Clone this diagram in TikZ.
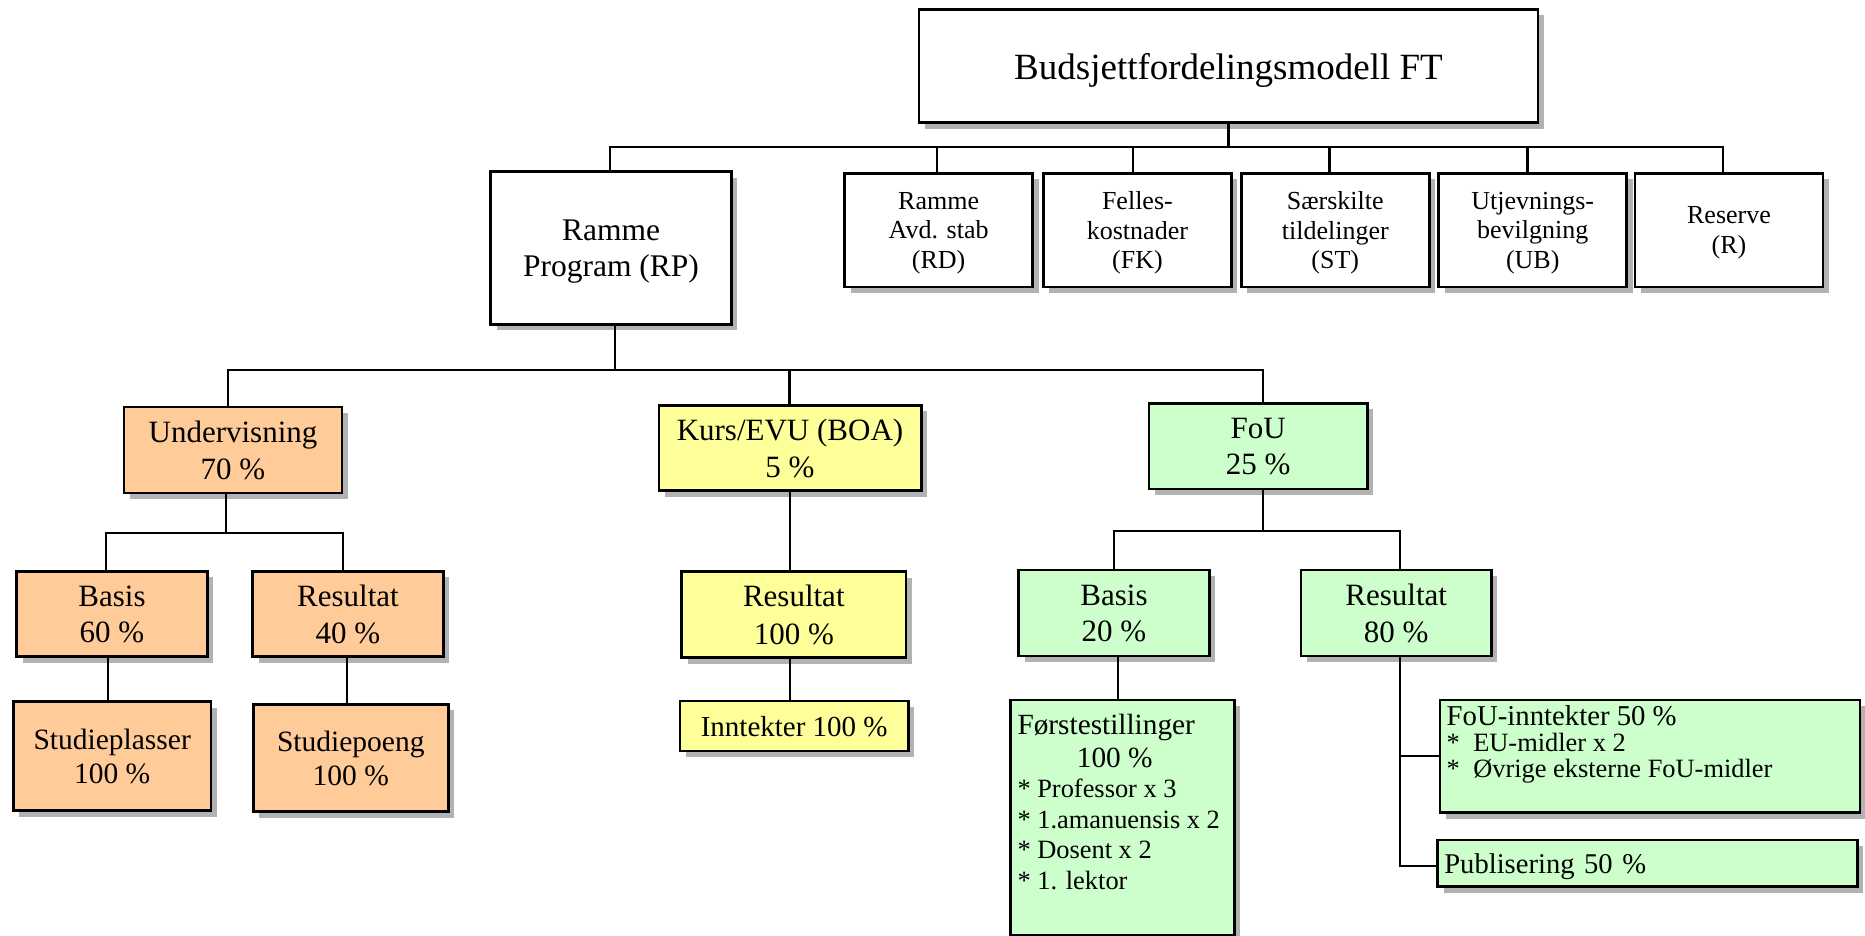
\documentclass[tikz,border=0pt]{standalone}
\usepackage{fontspec}
\setmainfont{Liberation Serif}
\usetikzlibrary{shadows}
\definecolor{orgc}{HTML}{FFCC99}
\definecolor{yelc}{HTML}{FFFF99}
\definecolor{grnc}{HTML}{CCFFCC}
\newcommand{\myfs}[2]{\fontsize{#1}{#2}\selectfont}
\tikzset{
  basebox/.style={draw, line width=2.7pt, inner sep=0pt,
    drop shadow={shadow xshift=6pt, shadow yshift=-6pt, fill=black!30, opacity=1}},
  ctbox/.style={basebox, align=center, text depth=0pt},
  wbox/.style={ctbox, fill=white},
  obox/.style={ctbox, fill=orgc},
  ybox/.style={ctbox, fill=yelc},
  gbox/.style={ctbox, fill=grnc},
  conn/.style={line width=2.2pt},
  big/.style={font=\myfs{31}{36.5}},
  small/.style={font=\myfs{26}{29.5}, minimum width=188pt, minimum height=113.7pt}
}
\begin{document}
\begin{tikzpicture}[x=1pt, y=-1pt]
\useasboundingbox (0,0) rectangle (1865,936);

% level 1
\node[wbox, font=\myfs{37}{42}, minimum width=619pt, minimum height=113.4pt] (T) at (1228.5,66) {Budsjettfordelingsmodell FT};
\node[wbox, font=\myfs{31.5}{36.5}, minimum width=240.7pt, minimum height=152.3pt] (RP) at (611,248) {Ramme\\Program (RP)};
\node[wbox, small] (RD) at (938.6,230.2) {Ramme\\Avd. stab\\(RD)};
\node[wbox, small] (FK) at (1137.4,230.2) {Felles-\\kostnader\\(FK)};
\node[wbox, small] (ST) at (1335.3,230.2) {Særskilte\\tildelinger\\(ST)};
\node[wbox, small] (UB) at (1532.7,230.2) {Utjevnings-\\bevilgning\\(UB)};
\node[wbox, small] (RS) at (1729,230.2) {Reserve\\(R)};

% level 2
\node[obox, big, minimum width=218pt, minimum height=86pt] (U) at (233,450) {Undervisning\\70 \%};
\node[ybox, big, minimum width=262.3pt, minimum height=85.4pt] (K) at (790,448) {Kurs/EVU (BOA)\\5 \%};
\node[gbox, big, minimum width=218.3pt, minimum height=85.7pt] (F) at (1258.2,446.2) {FoU\\25 \%};

% level 3
\node[obox, big, minimum width=190.6pt, minimum height=85.4pt] (UBa) at (112,614) {Basis\\60 \%};
\node[obox, big, minimum width=190.6pt, minimum height=85.4pt] (URe) at (348,614) {Resultat\\40 \%};
\node[ybox, font=\myfs{31}{37.5}, minimum width=224.3pt, minimum height=86pt] (KR) at (793.8,614.7) {Resultat\\100 \%};
\node[gbox, big, minimum width=190.6pt, minimum height=86pt] (FB) at (1114,613) {Basis\\20 \%};
\node[gbox, big, minimum width=190.3pt, minimum height=86pt] (FR) at (1396.2,613) {Resultat\\80 \%};

% level 4
\node[obox, font=\myfs{29.5}{34}, minimum width=197.7pt, minimum height=109pt] (SP) at (112.2,756.2) {Studieplasser\\100 \%};
\node[obox, font=\myfs{29.5}{34}, minimum width=195pt, minimum height=107.4pt] (SPo) at (350.8,758) {Studiepoeng\\100 \%};
\node[ybox, font=\myfs{29}{34}, minimum width=228.3pt, minimum height=50pt] (KI) at (794.2,726) {Inntekter 100 \%};
\node[basebox, fill=grnc, minimum width=223.6pt, minimum height=235pt] (BF) at (1122.5,817.5) {%
  \parbox[c][235pt][t]{210pt}{\raggedright
    \myfs{29.3}{33.3}\rule{0pt}{34pt}Førstestillinger\par
    \hspace*{59.4pt}100 \%\par
    \myfs{26.4}{30.5}%
    * Professor x 3\par
    * 1.amanuensis x 2\par
    * Dosent x 2\par
    * 1. lektor\par}};
\node[basebox, fill=grnc, minimum width=420pt, minimum height=112.7pt] (FI) at (1650,756.3) {%
  \parbox[c][112.7pt][t]{406.6pt}{\raggedright
    \myfs{28.75}{30}\rule{0pt}{26pt}FoU-inntekter 50 \%\par
    \myfs{26.4}{25.6}%
    \makebox[26.6pt][l]{*}EU-midler x 2\par
    \makebox[26.6pt][l]{*}Øvrige eksterne FoU-midler\par}};
\node[gbox, align=left, font=\myfs{28.6}{33}, inner xsep=6.6pt, text width=406.4pt, minimum height=46.7pt] (FP) at (1647.5,863.3) {Publisering 50 \%};

% connectors level 1
\coordinate (bus1) at (0,146.7);
\coordinate (sRPt) at ([xshift=-1.4pt]RP.north);
\coordinate (sRD) at ([xshift=-1.6pt]RD.north);
\coordinate (sFK) at ([xshift=-4.8pt]FK.north);
\coordinate (sST) at ([xshift=-5.8pt]ST.north);
\coordinate (sUB) at ([xshift=-5.2pt]UB.north);
\coordinate (sRS) at ([xshift=-6.4pt]RS.north);
\draw[conn] (T.south) -- (T.south |- bus1);
\draw[conn] (sRPt) |- (bus1 -| sRS) -- (sRS);
\draw[conn] (sRD) -- (sRD |- bus1);
\draw[conn] (sFK) -- (sFK |- bus1);
\draw[conn] (sST) -- (sST |- bus1);
\draw[conn] (sUB) -- (sUB |- bus1);

% connectors level 2
\coordinate (bus2) at (0,370);
\coordinate (sRPb) at ([xshift=4pt]RP.south);
\coordinate (sUt) at ([xshift=-5pt]U.north);
\coordinate (sKt) at ([xshift=-0.5pt]K.north);
\coordinate (sFt) at ([xshift=5.1pt]F.north);
\draw[conn] (sRPb) -- (sRPb |- bus2);
\draw[conn] (sUt) |- (bus2 -| sFt) -- (sFt);
\draw[conn] (sKt) -- (sKt |- bus2);

% Undervisning subtree
\coordinate (bus3) at (0,532.7);
\coordinate (sUb) at ([xshift=-7.3pt]U.south);
\coordinate (sUBat) at ([xshift=-6.3pt]UBa.north);
\coordinate (sURet) at ([xshift=-4.7pt]URe.north);
\coordinate (sUBab) at ([xshift=-4.3pt]UBa.south);
\coordinate (sUReb) at ([xshift=-1.3pt]URe.south);
\draw[conn] (sUb) -- (sUb |- bus3);
\draw[conn] (sUBat) |- (bus3 -| sURet) -- (sURet);
\draw[conn] (sUBab) -- (sUBab |- SP.north);
\draw[conn] (sUReb) -- (sUReb |- SPo.north);

% Kurs subtree
\coordinate (sKb) at ([xshift=-0.3pt]K.south);
\coordinate (sKRb) at ([xshift=-4.1pt]KR.south);
\draw[conn] (sKb) -- (sKb |- KR.north);
\draw[conn] (sKRb) -- (sKRb |- KI.north);

% FoU subtree
\coordinate (bus4) at (0,531);
\coordinate (sFb) at ([xshift=5.1pt]F.south);
\coordinate (sFBt) at ([xshift=-0.3pt]FB.north);
\coordinate (sFRt) at ([xshift=4.1pt]FR.north);
\coordinate (sFBb) at ([xshift=3.7pt]FB.south);
\coordinate (sFRb) at ([xshift=3.8pt]FR.south);
\draw[conn] (sFb) -- (sFb |- bus4);
\draw[conn] (sFBt) |- (bus4 -| sFRt) -- (sFRt);
\draw[conn] (sFBb) -- (sFBb |- BF.north);
\draw[conn] (sFRb) |- ([yshift=-2.4pt]FP.west);
\draw[conn] (sFRb |- FI.west) -- (FI.west);
\end{tikzpicture}
\end{document}
